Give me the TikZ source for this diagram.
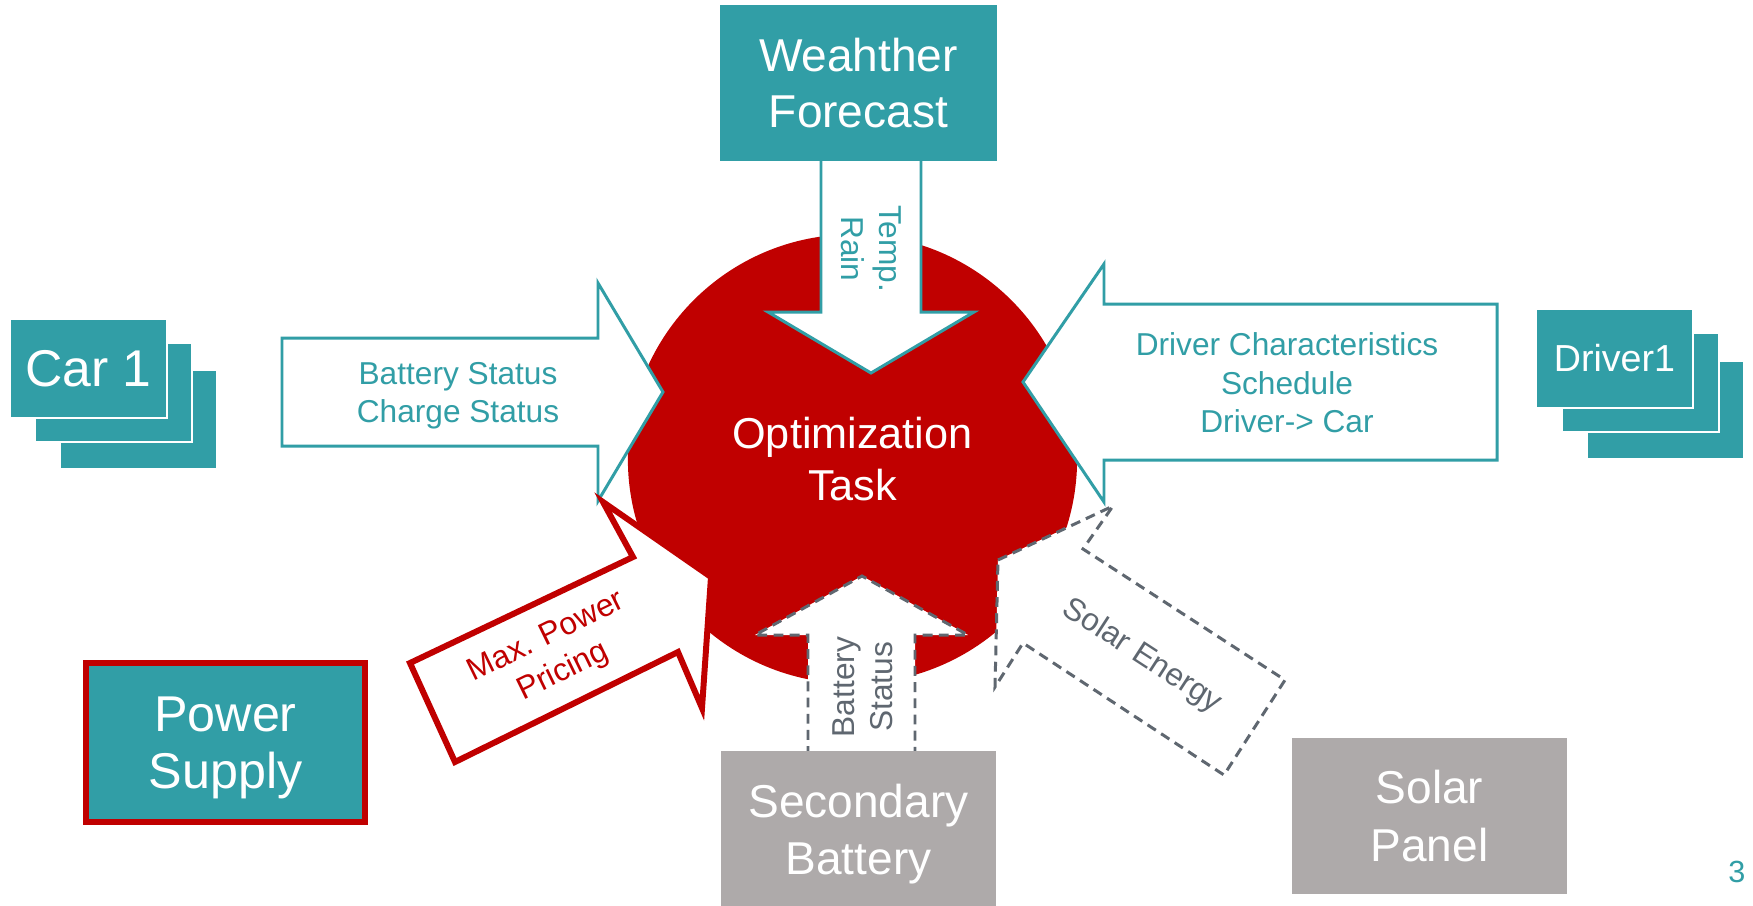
\documentclass[tikz,border=0pt]{standalone}
\usepackage{fontspec}
\setmainfont{Liberation Sans}
\definecolor{tealc}{RGB}{49,158,166}
\definecolor{redc}{RGB}{192,0,0}
\definecolor{grayboxc}{RGB}{174,170,170}
\definecolor{dashc}{RGB}{95,103,112}
\newcommand\fsz[2]{\fontsize{#1}{#2}\selectfont}
\begin{document}
\begin{tikzpicture}[x=0.01cm,y=-0.01cm,
  tbox/.style={fill=tealc,draw=white,line width=0.6pt,inner sep=0pt,
    minimum width=1.57cm,minimum height=0.99cm,text=white},
  bigbox/.style={inner sep=0pt,minimum width=2.76cm,minimum height=1.56cm,
    text=white,align=center},
  tealarrow/.style={draw=tealc,fill=white,line width=0.85pt},
  grayarrow/.style={draw=dashc,fill=white,line width=0.85pt,
    dash pattern=on 2.8pt off 1.8pt},
  redarrow/.style={draw=redc,fill=white,line width=1.7pt},
  lbl/.style={inner sep=0pt,align=center,font=\fsz{9}{10.9}}]
\useasboundingbox (0,0) rectangle (1753,905);
\clip (0,0) rectangle (1753,905);
\fill[white] (0,0) rectangle (1753,905);

% central task
\node[circle,fill=redc,minimum size=4.49cm,inner sep=0pt,text=white,
  align=center,font=\fsz{12.3}{14.8}] (opt) at (852.5,459) {Optimization\\Task};

% block arrows
\draw[tealarrow] (282,338) -- (598,338) -- (598,283) -- (663,392)
  -- (598,501) -- (598,446) -- (282,446) -- cycle;
\draw[tealarrow] (821,158) -- (821,312) -- (768,312) -- (871,373)
  -- (974,312) -- (921,312) -- (921,158) -- cycle;
\draw[tealarrow] (1497,304) -- (1104,304) -- (1104,264) -- (1023,382)
  -- (1104,502) -- (1104,460) -- (1497,460) -- cycle;
\draw[grayarrow] (808,756) -- (808,635) -- (755,635) -- (862,576)
  -- (968,635) -- (915,635) -- (915,756) -- cycle;
\draw[grayarrow] (998,560) -- (1113,506) -- (1083,549) -- (1285,680)
  -- (1224,775) -- (1023,643) -- (995,687) -- cycle;
\draw[redarrow] (410,663) -- (633,557) -- (603,502) -- (711,577)
  -- (702,708) -- (678,652) -- (455,762) -- cycle;

% boxes
\node[tbox] (car3) at (138.5,419.5) {};
\node[tbox] (car2) at (113.5,392.5) {};
\node[tbox,font=\fsz{14.7}{17}] (car1) at (88.5,368.5) {Car 1};
\node[tbox] (drv3) at (1665.5,410) {};
\node[tbox] (drv2) at (1640.5,382.5) {};
\node[tbox,font=\fsz{10.7}{13}] (drv1) at (1614.5,358.5) {Driver1};
\node[bigbox,fill=tealc,font=\fsz{13.1}{15.9}] (wf) at (858.5,83) {Weahther\\Forecast};
\node[bigbox,fill=tealc,draw=redc,line width=1.7pt,minimum width=2.79cm,
  minimum height=1.59cm,text depth=0pt,font=\fsz{14.3}{16.2}] (ps) at (225.5,742.5) {Power\\Supply};
\node[bigbox,fill=grayboxc,minimum width=2.75cm,text depth=0pt,font=\fsz{13.1}{16.2}] (sb) at (858.5,829) {Secondary\\Battery};
\node[bigbox,fill=grayboxc,minimum width=2.75cm,font=\fsz{13.1}{16.5}] (sp) at (1429.5,816) {Solar\\Panel};

% arrow labels
\node[lbl,text=tealc] (lcar) at (458,396) {Battery Status\\Charge Status};
\node[lbl,text=tealc,rotate=-90] (lwf) at (871,249) {Temp.\\Rain};
\node[lbl,text=tealc] (ldrv) at (1287,383) {Driver Characteristics\\Schedule\\Driver-> Car};
\node[lbl,text=redc,rotate=26] (lps) at (555,655) {Max. Power\\Pricing};
\node[lbl,text=dashc,rotate=90] (lsb) at (863,687) {Battery\\Status};
\node[lbl,text=dashc,rotate=-33] (lsp) at (1142,656) {Solar Energy};

\node[text=tealc,inner sep=0pt,font=\fsz{8.7}{10}] (pg) at (1737,872) {3};
\end{tikzpicture}
\end{document}
